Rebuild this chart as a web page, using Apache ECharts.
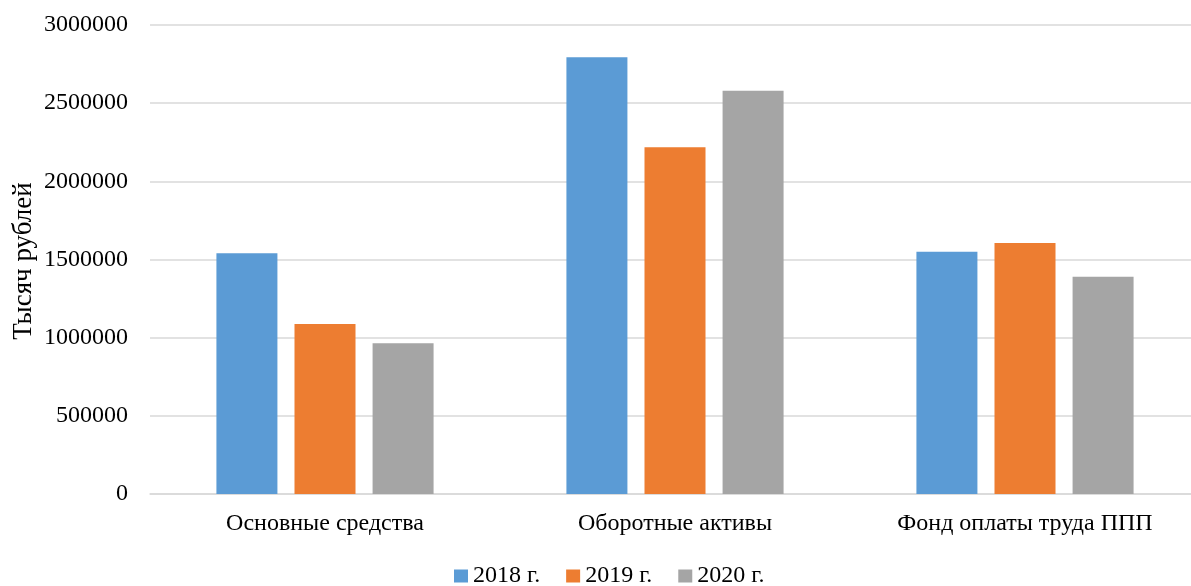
<!DOCTYPE html>
<html><head><meta charset="utf-8">
<script src="https://cdn.jsdelivr.net/npm/echarts@6/dist/echarts.min.js"></script>
<style>html,body{margin:0;padding:0;background:#fff}#c{width:1191px;height:586px}</style>
</head><body><div id="c"></div>
<script>
const categories = ['Основные средства', 'Оборотные активы', 'Фонд оплаты труда ППП'];
const seriesNames = ['2018 г.', '2019 г.', '2020 г.'];
const v2018 = [1540000, 2793000, 1550000];
const v2019 = [1087000, 2218000, 1605000];
const v2020 = [964000, 2580000, 1390000];
const yAxisTitle = 'Тысяч рублей';
const colors = ['#5b9bd5', '#ed7d31', '#a5a5a5'];
const font = '"Liberation Serif", "Times New Roman", serif';
const data = [v2018, v2019, v2020];
const chart = echarts.init(document.getElementById('c'));
chart.setOption({
  animation: false,
  textStyle: {fontFamily: font},
  legend: {
    data: seriesNames, top: 564, left: 454, itemWidth: 14, itemHeight: 13, itemGap: 26,
    padding: 0,
    icon: 'rect', textStyle: {fontFamily: font, fontSize: 24, color: '#000'}
  },
  graphic: [{
    type: 'text', x: 24, y: 261, rotation: Math.PI / 2,
    style: {text: yAxisTitle, font: '27px ' + font, fill: '#000', align: 'center', verticalAlign: 'middle'}
  }],
  grid: {left: 150, top: 25, width: 1050, bottom: 92, outerBoundsMode: 'none', containLabel: false},
  xAxis: {
    type: 'category', data: categories,
    axisLine: {lineStyle: {color: '#d9d9d9', width: 1.5}},
    axisTick: {show: false},
    axisLabel: {fontFamily: font, fontSize: 24, color: '#000', margin: 18}
  },
  yAxis: {
    type: 'value', min: 0, max: 3000000, interval: 500000,
    axisLabel: {fontFamily: font, fontSize: 24, color: '#000', margin: 22, formatter: v => String(v)},
    axisLine: {show: false}, axisTick: {show: false},
    splitLine: {lineStyle: {color: '#d9d9d9', width: 1.5}}
  },
  series: seriesNames.map((n, i) => ({
    name: n, type: 'bar', data: data[i], barWidth: 61, barGap: '28%',
    itemStyle: {color: colors[i]}
  }))
});
</script></body></html>
